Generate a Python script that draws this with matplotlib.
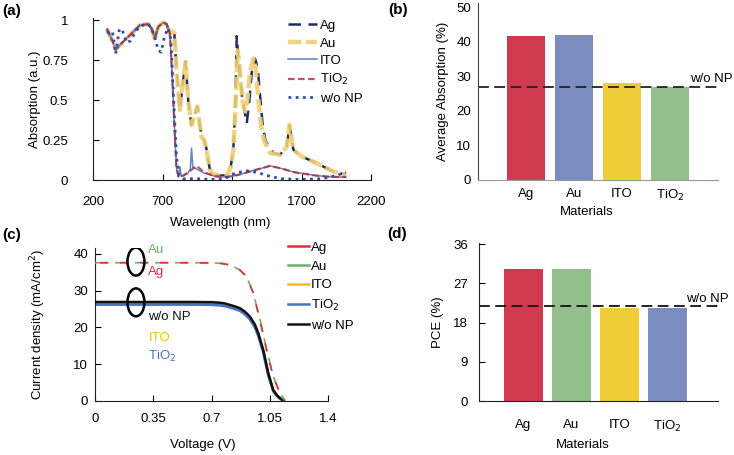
import matplotlib

matplotlib.use("Agg")
import matplotlib.pyplot as plt
import numpy as np
from matplotlib.patches import Ellipse

plt.rcParams["font.family"] = ["Liberation Sans", "DejaVu Sans"]
plt.rcParams["font.size"] = 9

# ---- (a) absorption spectra ----
wl_vis = [300, 330, 363, 400, 450, 500, 537, 597, 621, 645, 669, 705, 729, 753]
abs_vis = [0.945, 0.89, 0.817, 0.85, 0.893, 0.936, 0.968, 0.975, 0.948, 0.886, 0.958, 0.985, 0.975, 0.917]

wl_au_nir = [770, 785, 800, 825, 845, 866, 885, 909, 930, 950, 968, 981, 1000, 1015, 1040, 1065,
             1110, 1162, 1190, 1210, 1225, 1241, 1255, 1275, 1294, 1310, 1330, 1354, 1370, 1390,
             1410, 1430, 1474, 1546, 1594, 1605, 1613, 1625, 1642, 1700, 1810, 1931, 2020]
abs_au_nir = [0.93, 0.92, 0.7, 0.44, 0.6, 0.74, 0.5, 0.345, 0.4, 0.46, 0.35, 0.27, 0.25, 0.2, 0.07, 0.04,
              0.03, 0.03, 0.08, 0.19, 0.45, 0.81, 0.7, 0.5, 0.43, 0.5, 0.68, 0.76, 0.7, 0.5,
              0.33, 0.25, 0.17, 0.16, 0.21, 0.28, 0.345, 0.28, 0.19, 0.15, 0.106, 0.054, 0.035]

wl_ag_nir = [770, 785, 800, 825, 845, 866, 885, 909, 930, 950, 968, 981, 1000, 1015, 1040, 1065,
             1110, 1162, 1190, 1210, 1225, 1234, 1250, 1275, 1306, 1325, 1345, 1366, 1385, 1405,
             1420, 1440, 1470, 1500, 1546, 1594, 1605, 1613, 1625, 1642, 1700, 1810, 1931, 2020]
abs_ag_nir = [0.93, 0.92, 0.7, 0.44, 0.6, 0.74, 0.5, 0.345, 0.4, 0.46, 0.35, 0.27, 0.25, 0.2, 0.07, 0.04,
              0.03, 0.03, 0.08, 0.2, 0.5, 0.9, 0.72, 0.5, 0.355, 0.5, 0.7, 0.76, 0.7, 0.5,
              0.35, 0.25, 0.2, 0.17, 0.16, 0.21, 0.28, 0.345, 0.28, 0.19, 0.15, 0.106, 0.054, 0.035]

wl_ito_nir = [770, 785, 800, 815, 825, 835, 880, 900, 909, 918, 945, 1000, 1080, 1162, 1250, 1350,
              1474, 1550, 1650, 1800, 1900, 2020]
abs_ito_nir = [0.65, 0.35, 0.08, 0.02, 0.085, 0.025, 0.04, 0.07, 0.2, 0.08, 0.07, 0.045, 0.025, 0.02,
               0.035, 0.06, 0.09, 0.075, 0.05, 0.03, 0.022, 0.02]

wl_tio2_nir = [770, 785, 800, 815, 850, 900, 945, 1000, 1080, 1162, 1250, 1350, 1474, 1550, 1650,
               1800, 1900, 2020]
abs_tio2_nir = [0.65, 0.35, 0.08, 0.02, 0.03, 0.06, 0.09, 0.05, 0.025, 0.02, 0.035, 0.06, 0.09,
                0.075, 0.05, 0.03, 0.022, 0.02]

wl_wonp = [300, 320, 340, 363, 390, 410, 440, 470, 500, 540, 597, 621, 645, 670, 690, 715, 740, 760,
           780, 800, 820, 850, 950, 1050, 1150, 1210, 1300, 1380, 1450, 1550, 1700, 1850, 1950, 2020]
abs_wonp = [0.92, 0.93, 0.93, 0.79, 0.945, 0.94, 0.86, 0.87, 0.92, 0.965, 0.975, 0.95, 0.89, 0.81,
            0.80, 0.90, 0.95, 0.88, 0.5, 0.15, 0.03, 0.01, 0.01, 0.005, 0.01, 0.04, 0.06, 0.05, 0.03,
            0.01, 0.005, 0.01, 0.03, 0.05]

# ---- (b) average absorption ----
materials = ["Ag", "Au", "ITO", "TiO$_2$"]
avg_abs = [41.5, 41.8, 28.0, 27.0]
avg_abs_wonp = 27.0
colors_b = ["#CF3A4E", "#7A8CC0", "#F0CB3A", "#92BF8C"]

# ---- (c) J-V curves ----
v_np = [0, 0.2, 0.4, 0.6, 0.7, 0.76, 0.811, 0.871, 0.911, 0.951, 0.991, 1.031, 1.071, 1.112, 1.142]
j_ag = [37.6, 37.6, 37.6, 37.6, 37.55, 37.4, 37.0, 35.6, 33.8, 29.3, 22.0, 13.8, 6.5, 2.0, 0]
j_au = [37.6, 37.6, 37.6, 37.6, 37.55, 37.4, 37.0, 35.6, 33.8, 29.4, 22.2, 14.0, 6.6, 2.0, 0]
v_ref = [0, 0.2, 0.4, 0.6, 0.7, 0.75, 0.78, 0.811, 0.84, 0.871, 0.90, 0.931, 0.96, 0.981, 1.011,
         1.041, 1.071, 1.095, 1.112, 1.133]
j_wonp = [26.9, 26.9, 26.9, 26.9, 26.85, 26.7, 26.5, 26.1, 25.7, 25.2, 24.3, 22.9, 20.8, 18.4, 13.8,
          7.5, 2.9, 1.4, 0.7, 0]
j_ito = [26.7, 26.7, 26.7, 26.7, 26.65, 26.5, 26.3, 25.9, 25.5, 25.0, 24.1, 22.7, 20.6, 18.2, 13.6,
         7.3, 2.8, 1.3, 0.6, 0]
j_tio2 = [26.2, 26.2, 26.2, 26.2, 26.15, 26.0, 25.8, 25.4, 25.0, 24.5, 23.6, 22.2, 20.1, 17.7, 13.2,
          7.0, 2.6, 1.2, 0.5, 0]

# ---- (d) PCE ----
pce = [30.4, 30.4, 21.4, 21.4]
pce_wonp = 21.8
colors_d = ["#CF3A4E", "#92BF8C", "#F0CB3A", "#7A8CC0"]

W, H = 734, 455
fig = plt.figure(figsize=(W / 100, H / 100), dpi=100)


def box(left, right, bottom, top):
    return [left / W, 1 - bottom / H, (right - left) / W, (bottom - top) / H]


# ---------------- panel (a) ----------------
ax = fig.add_axes(box(93, 371, 180.3, 18.2))
ax.plot(wl_vis + wl_ag_nir, abs_vis + abs_ag_nir, color="#1B2F66", lw=1.8, ls=(0, (5, 3)), label="Ag")
ax.plot(wl_vis + wl_au_nir, abs_vis + abs_au_nir, color="#EFCF73", lw=3.2, ls=(0, (3, 1)), alpha=0.9,
        label="Au")
ax.plot(wl_vis + wl_ito_nir, abs_vis + abs_ito_nir, color="#5E86C1", lw=1.1, label="ITO")
ax.plot(wl_vis + wl_tio2_nir, abs_vis + abs_tio2_nir, color="#B8273A", lw=1.6, ls=(0, (3, 1.5)),
        alpha=0.8, label="TiO$_2$")
ax.plot(wl_wonp, abs_wonp, color="#2E4FA8", lw=2, ls=(0, (1, 1.6)), label="w/o NP")
ax.set_xlim(200, 2200)
ax.set_ylim(0, 1.012)
ax.set_xticks([200, 700, 1200, 1700, 2200])
ax.set_yticks([0, 0.25, 0.5, 0.75, 1])
ax.set_yticklabels(["0", "0.25", "0.5", "0.75", "1"])
ax.tick_params(axis="y", direction="in", length=4, pad=18, labelsize=9.5)
ax.tick_params(axis="x", direction="in", length=4, pad=11, labelsize=9.5)
for s in ["top", "right"]:
    ax.spines[s].set_visible(False)
for s in ["left", "bottom"]:
    ax.spines[s].set_color("#222222")
ax.set_ylabel("Absorption (a.u.)", fontsize=9.5, va="center")
ax.yaxis.set_label_coords(-0.209, 0.5)
ax.set_xlabel("Wavelength (nm)", fontsize=9.5, va="center")
ax.xaxis.set_label_coords(0.457, -0.265)
ax.legend(loc="upper left", bbox_to_anchor=(0.70, 0.99), frameon=False, fontsize=9.5,
          handlelength=2.2, handletextpad=0.25, labelspacing=0.4, borderpad=0, borderaxespad=0)

# ---------------- panel (b) ----------------
ax = fig.add_axes(box(478, 718, 180, 3.3))
xb = np.arange(len(materials))
ax.bar(xb, avg_abs, width=0.81, color=colors_b)
ax.axhline(avg_abs_wonp, color="#222222", lw=1.3, ls=(0, (6, 3)))
ax.text(3.42, avg_abs_wonp + 0.6, "w/o NP", fontsize=9.5, ha="left", va="bottom", clip_on=False)
ax.set_xlim(-1, 4)
ax.set_ylim(0, 51.1)
ax.set_xticks(xb)
ax.set_xticklabels(materials)
ax.set_yticks([0, 10, 20, 30, 40, 50])
ax.tick_params(axis="y", length=0, pad=5, labelsize=9.5)
ax.tick_params(axis="x", length=0, pad=6, labelsize=9.5)
for s in ["top", "right"]:
    ax.spines[s].set_visible(False)
ax.spines["left"].set_color("#444444")
ax.spines["bottom"].set_color("#999999")
ax.set_ylabel("Average Absorption (%)", fontsize=9.5, va="center")
ax.yaxis.set_label_coords(-0.146, 0.5)
ax.set_xlabel("Materials", fontsize=9.5, va="center")
ax.xaxis.set_label_coords(0.454, -0.18)

# ---------------- panel (c) ----------------
ax = fig.add_axes(box(95, 328, 400.7, 248.4))
ax.plot(v_ref, j_ito, color="#F2C200", lw=2, label="ITO", zorder=2)
ax.plot(v_ref, j_tio2, color="#4A72C4", lw=2, label="TiO$_2$", zorder=2)
ax.plot(v_ref, j_wonp, color="#111111", lw=1.8, label="w/o NP", zorder=3)
ax.plot(v_np, j_au, color="#6DAE6A", lw=1.2, ls=(0, (8, 4)), label="Au", zorder=3)
ax.plot(v_np, j_ag, color="#E0303A", lw=1.2, ls=(9, (5, 7)), label="Ag", zorder=3)
for jc in (37.9, 26.8):
    ax.add_patch(Ellipse((0.246, jc), 0.102, 7.6, fill=False, lw=1.8, ec="black", zorder=4))
ax.text(0.32, 41.1, "Au", color="#6DAE6A", fontsize=9.5, va="center", clip_on=False)
ax.text(0.32, 35.2, "Ag", color="#E0303A", fontsize=9.5, va="center")
ax.text(0.32, 22.9, "w/o NP", color="#111111", fontsize=9.5, va="center")
ax.text(0.32, 17.2, "ITO", color="#F2C200", fontsize=9.5, va="center")
ax.text(0.32, 12.0, "TiO$_2$", color="#4A72C4", fontsize=9.5, va="center")
ax.set_xlim(0, 1.4)
ax.set_ylim(0, 41.5)
ax.set_xticks([0, 0.35, 0.7, 1.05, 1.4])
ax.set_xticklabels(["0", "0.35", "0.7", "1.05", "1.4"])
ax.set_yticks([0, 10, 20, 30, 40])
ax.tick_params(axis="y", direction="in", length=4, pad=5, labelsize=9.5)
ax.tick_params(axis="x", direction="in", length=4, pad=9, labelsize=9.5)
for s in ["top", "right"]:
    ax.spines[s].set_visible(False)
for s in ["left", "bottom"]:
    ax.spines[s].set_color("#222222")
ax.set_ylabel("Current density (mA/cm$^2$)", fontsize=9.5, va="center")
ax.yaxis.set_label_coords(-0.245, 0.5)
ax.set_xlabel("Voltage (V)", fontsize=9.5, va="center")
ax.xaxis.set_label_coords(0.464, -0.291)
handles, labels = ax.get_legend_handles_labels()
order = [labels.index(k) for k in ["Ag", "Au", "ITO", "TiO$_2$", "w/o NP"]]
leg = ax.legend([handles[i] for i in order], [labels[i] for i in order], loc="upper left",
                bbox_to_anchor=(0.828, 1.045), frameon=False, fontsize=9.5, handlelength=1.6,
                handletextpad=0.15, labelspacing=0.5, borderpad=0, borderaxespad=0)
for line in leg.get_lines():
    line.set_linestyle("-")
    line.set_linewidth(1.8)

# ---------------- panel (d) ----------------
ax = fig.add_axes(box(479, 718, 401, 243.3))
ax.bar(xb, pce, width=0.81, color=colors_d)
ax.axhline(pce_wonp, color="#111111", lw=1.3, ls=(0, (6, 3)))
ax.text(3.38, pce_wonp + 0.3, "w/o NP", fontsize=9.5, ha="left", va="bottom", clip_on=False)
ax.set_xlim(-0.92, 4.05)
ax.set_ylim(0, 36.2)
ax.set_xticks(xb)
ax.set_xticklabels(materials)
ax.set_yticks([0, 9, 18, 27, 36])
ax.tick_params(axis="y", direction="in", length=4, pad=8, labelsize=9.5)
ax.tick_params(axis="x", length=0, pad=13, labelsize=9.5)
for s in ["top", "right"]:
    ax.spines[s].set_visible(False)
for s in ["left", "bottom"]:
    ax.spines[s].set_color("#222222")
ax.set_ylabel("PCE (%)", fontsize=9.5, va="center")
ax.yaxis.set_label_coords(-0.172, 0.5)
ax.set_xlabel("Materials", fontsize=9.5, va="center")
ax.xaxis.set_label_coords(0.435, -0.279)

# panel letters
for lbl, px, py in [("(a)", 2, 11), ("(b)", 388, 10), ("(c)", 2, 235), ("(d)", 387, 234)]:
    fig.text(px / W, 1 - py / H, lbl, fontsize=11, fontweight="bold", va="center", ha="left")

fig.savefig("out.png", dpi=100)
